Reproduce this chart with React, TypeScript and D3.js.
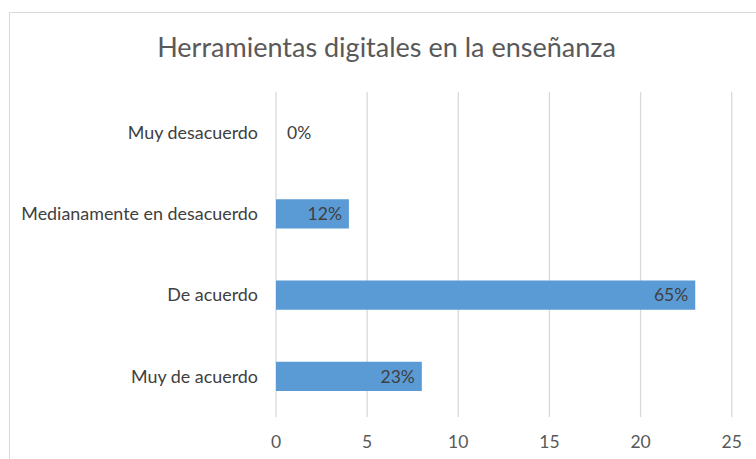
import React from 'react';
import * as d3 from 'd3';

const categories = ['Muy desacuerdo', 'Medianamente en desacuerdo', 'De acuerdo', 'Muy de acuerdo'];
const values = [0, 4, 23, 8];
const percentLabels = ['0%', '12%', '65%', '23%'];
const xTicks = [0, 5, 10, 15, 20, 25];

const W = 756;
const H = 459;
const font = 'Lato, "Open Sans", sans-serif';

export default function App() {
  const margin = { top: 92, right: 24, bottom: 42, left: 276 };

  const x = d3.scaleLinear().domain([0, 25]).range([margin.left, 731.7]);
  const y = d3
    .scaleBand<string>()
    .domain(categories)
    .range([margin.top, H - margin.bottom])
    .paddingInner(0.64)
    .paddingOuter(0.32);

  return (
    <svg width={W} height={H} style={{ position: 'absolute', left: 0, top: 0, background: '#fff' }}>
      {/* chart border */}
      <rect x={9.5} y={12.5} width={W + 10} height={H + 10} fill="none" stroke="#d9d9d9" />

      <text x={386.5} y={57} textAnchor="middle" fontFamily={font} fontSize={27} fill="#595959">
        Herramientas digitales en la enseñanza
      </text>

      {xTicks.map((t) => (
        <g key={t}>
          <line x1={x(t)} x2={x(t)} y1={margin.top} y2={H - margin.bottom} stroke="#d9d9d9" strokeWidth={1.3} />
          <text x={x(t)} y={448} textAnchor="middle" fontFamily={font} fontSize={17.5} fill="#595959">
            {t}
          </text>
        </g>
      ))}

      {categories.map((c, i) => {
        const by = y(c)!;
        const bh = y.bandwidth();
        const xe = x(values[i]);
        return (
          <g key={c}>
            {values[i] > 0 && (
              <rect x={x(0)} y={by} width={xe - x(0)} height={bh} fill="#5b9bd5" />
            )}
            <text
              x={258}
              y={by + bh / 2}
              dy="0.35em"
              textAnchor="end"
              fontFamily={font}
              fontSize={17.9}
              fill="#404040"
            >
              {c}
            </text>
            <text
              x={values[i] > 0 ? xe - 7 : x(0) + 11}
              y={by + bh / 2}
              dy="0.35em"
              textAnchor={values[i] > 0 ? 'end' : 'start'}
              fontFamily={font}
              fontSize={17.5}
              fill="#404040"
            >
              {percentLabels[i]}
            </text>
          </g>
        );
      })}
    </svg>
  );
}
